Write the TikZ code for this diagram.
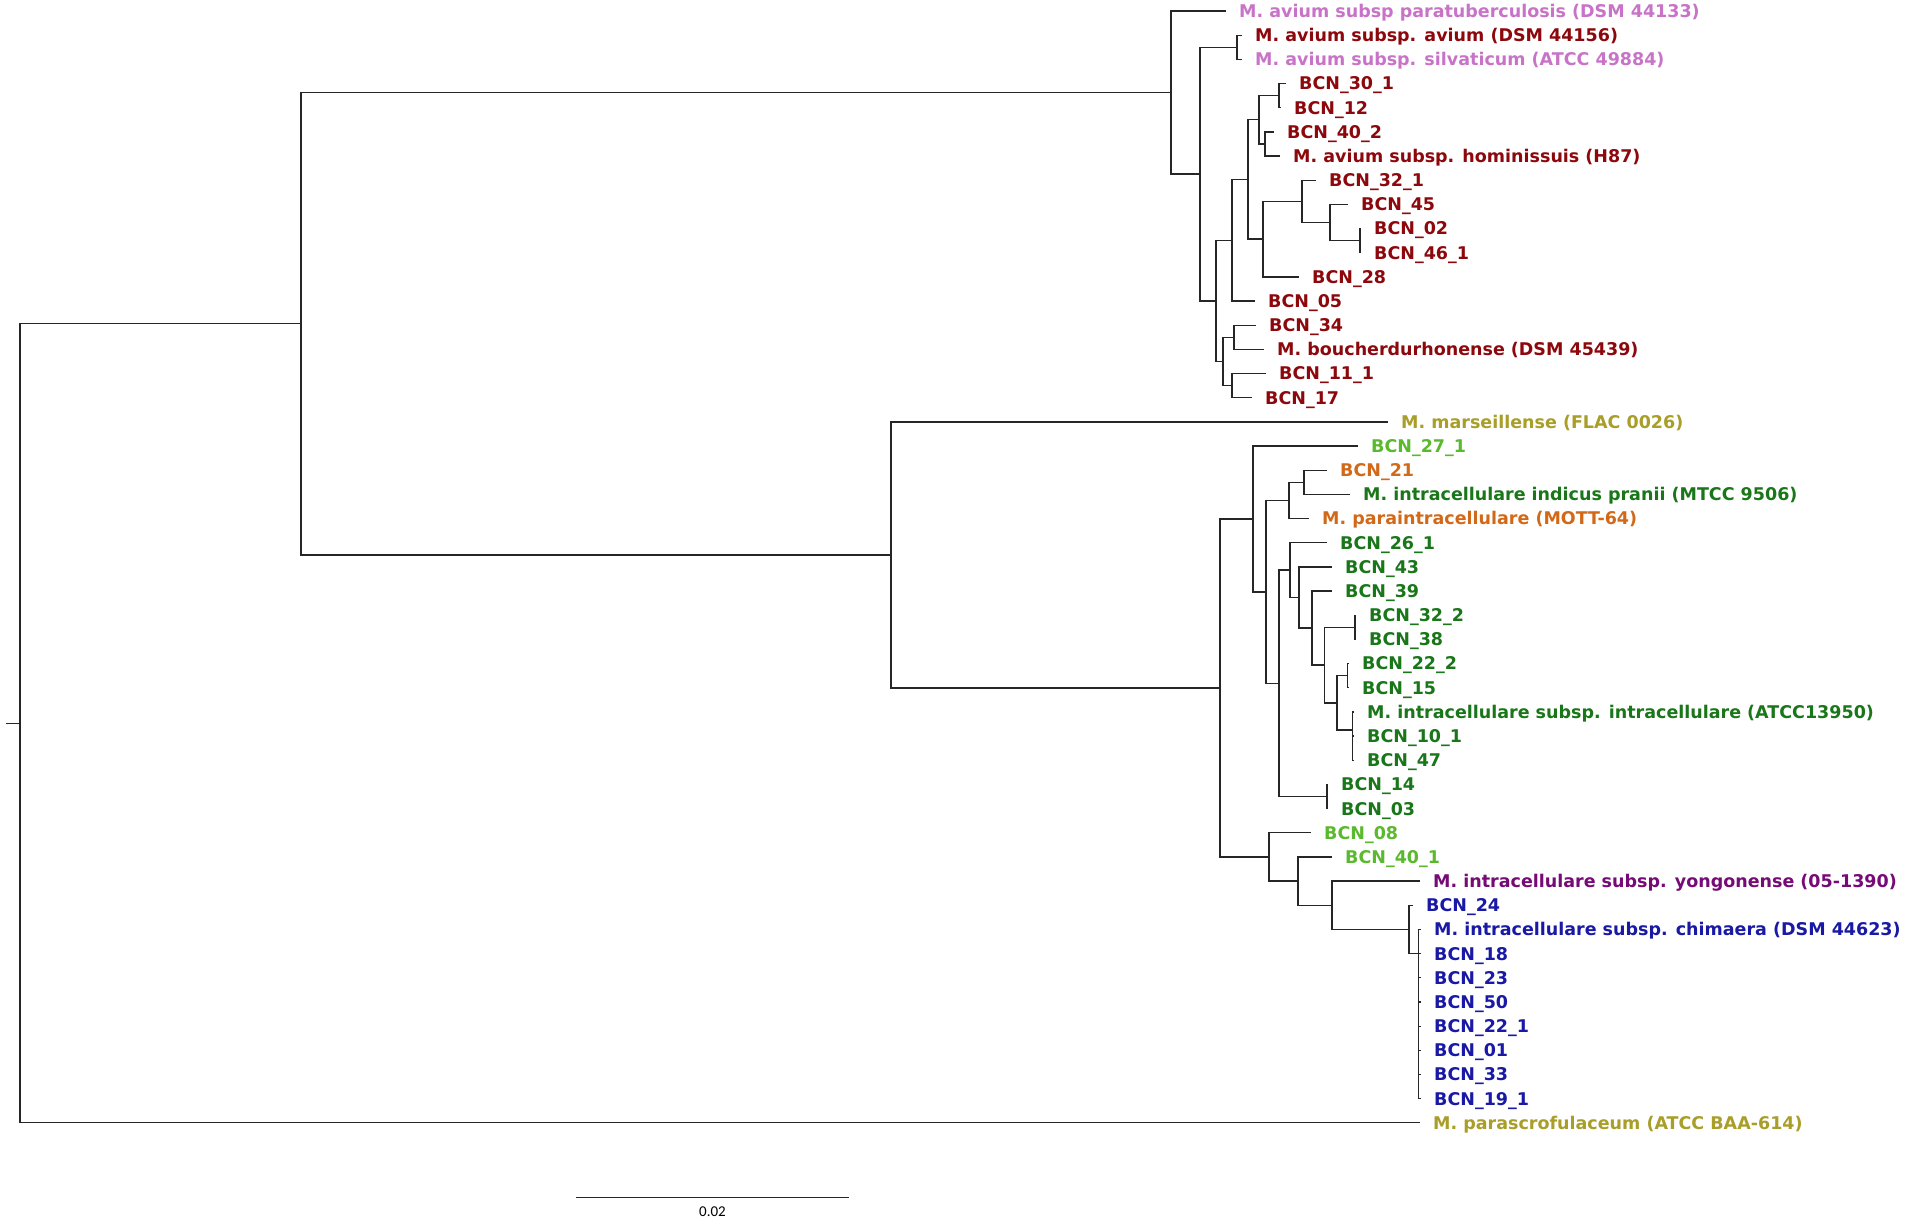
\documentclass[tikz,border=0pt]{standalone}
\usepackage{fontspec}
\setmainfont{DejaVu Sans}
\newfontfamily\barfont{Carlito}
\usetikzlibrary{calc,positioning}
\definecolor{avpink}{RGB}{200,115,200}
\definecolor{avred}{RGB}{140,8,12}
\definecolor{olive}{RGB}{168,158,40}
\definecolor{lgreen}{RGB}{90,185,45}
\definecolor{orng}{RGB}{210,105,25}
\definecolor{dgreen}{RGB}{25,118,25}
\definecolor{purp}{RGB}{118,10,118}
\definecolor{dblue}{RGB}{25,25,165}
% leaf: row, tip x, colour, text
\newcommand{\tip}[4]{ \coordinate (t#1) at (#2,{11+(#1-1)*24.17}); \node[lbl, text=#3, right=13pt of t#1] (l#1) {#4};}
% inner node: name, x, upper child, lower child
\newcommand{\inode}[4]{ \coordinate (#1m) at ($(#3)!.5!(#4)$); \coordinate (#1) at (#2,0 |- #1m); \draw[br] (#1) |- (#3); \draw[br] (#1) |- (#4);}
\begin{document}
\begin{tikzpicture}[x=1pt,y=-1pt,
    br/.style={draw=black!85, line width=1.3pt},
    lbl/.style={inner sep=0pt, anchor=west, font=\bfseries\fontsize{17.5}{20}\selectfont, text height=12.8pt, text depth=0pt}]

        \fill[white] (0,0) rectangle (1908,1223);
        \useasboundingbox (0,0) rectangle (1908,1223);

        % avium group
        \tip{1}{1226}{avpink}{M. avium subsp paratuberculosis (DSM 44133)}
        \tip{2}{1242}{avred}{M. avium subsp. avium (DSM 44156)}
        \tip{3}{1242}{avpink}{M. avium subsp. silvaticum (ATCC 49884)}
        \tip{4}{1286}{avred}{BCN\_30\_1}
        \tip{5}{1281}{avred}{BCN\_12}
        \tip{6}{1274}{avred}{BCN\_40\_2}
        \tip{7}{1280}{avred}{M. avium subsp. hominissuis (H87)}
        \tip{8}{1316}{avred}{BCN\_32\_1}
        \tip{9}{1348}{avred}{BCN\_45}
        \tip{10}{1361}{avred}{BCN\_02}
        \tip{11}{1361}{avred}{BCN\_46\_1}
        \tip{12}{1299}{avred}{BCN\_28}
        \tip{13}{1255}{avred}{BCN\_05}
        \tip{14}{1256}{avred}{BCN\_34}
        \tip{15}{1264}{avred}{M. boucherdurhonense (DSM 45439)}
        \tip{16}{1266}{avred}{BCN\_11\_1}
        \tip{17}{1252}{avred}{BCN\_17}

        % intracellulare group
        \tip{18}{1388}{olive}{M. marseillense (FLAC 0026)}
        \tip{19}{1358}{lgreen}{BCN\_27\_1}
        \tip{20}{1327}{orng}{BCN\_21}
        \tip{21}{1350}{dgreen}{M. intracellulare indicus pranii (MTCC 9506)}
        \tip{22}{1309}{orng}{M. paraintracellulare (MOTT-64)}
        \tip{23}{1327}{dgreen}{BCN\_26\_1}
        \tip{24}{1332}{dgreen}{BCN\_43}
        \tip{25}{1332}{dgreen}{BCN\_39}
        \tip{26}{1356}{dgreen}{BCN\_32\_2}
        \tip{27}{1356}{dgreen}{BCN\_38}
        \tip{28}{1349}{dgreen}{BCN\_22\_2}
        \tip{29}{1349}{dgreen}{BCN\_15}
        \tip{30}{1354}{dgreen}{M. intracellulare subsp. intracellulare (ATCC13950)}
        \tip{31}{1354}{dgreen}{BCN\_10\_1}
        \tip{32}{1354}{dgreen}{BCN\_47}
        \tip{33}{1328}{dgreen}{BCN\_14}
        \tip{34}{1328}{dgreen}{BCN\_03}
        \tip{35}{1311}{lgreen}{BCN\_08}
        \tip{36}{1332}{lgreen}{BCN\_40\_1}
        \tip{37}{1420}{purp}{M. intracellulare subsp. yongonense (05-1390)}
        \tip{38}{1413}{dblue}{BCN\_24}
        \tip{39}{1421}{dblue}{M. intracellulare subsp. chimaera (DSM 44623)}
        \tip{40}{1421}{dblue}{BCN\_18}
        \tip{41}{1421}{dblue}{BCN\_23}
        \tip{42}{1421}{dblue}{BCN\_50}
        \tip{43}{1421}{dblue}{BCN\_22\_1}
        \tip{44}{1421}{dblue}{BCN\_01}
        \tip{45}{1421}{dblue}{BCN\_33}
        \tip{46}{1421}{dblue}{BCN\_19\_1}

        % outgroup
        \tip{47}{1420}{olive}{M. parascrofulaceum (ATCC BAA-614)}

        % avium branches
        \inode{a680}{1360}{t10}{t11}
        \inode{a602}{1330}{t9}{a680}
        \inode{a528}{1302}{t8}{a602}
        \inode{a425}{1263}{a528}{t12}
        \inode{a468}{1279}{t4}{t5}
        \inode{a430}{1265}{t6}{t7}
        \inode{a415}{1259}{a468}{a430}
        \inode{a388}{1248}{a415}{a425}
        \inode{a345}{1232}{a388}{t13}
        \inode{a350}{1234}{t14}{t15}
        \inode{a346}{1232}{t16}{t17}
        \inode{a322}{1223}{a350}{a346}
        \inode{a302}{1216}{a345}{a322}
        \inode{a237}{1237}{t2}{t3}
        \inode{a200}{1200}{a237}{a302}
        \inode{a171}{1171}{t1}{a200}

        % intracellulare branches
        \inode{i304}{1304}{t20}{t21}
        \inode{i289}{1289}{i304}{t22}
        \inode{i355}{1355}{t26}{t27}
        \inode{i348}{1347.5}{t28}{t29}
        \inode{i353b}{1352.5}{t31}{t32}
        \inode{i353}{1352.5}{t30}{i353b}
        \inode{i337}{1337}{i348}{i353}
        \inode{i325}{1324.5}{i355}{i337}
        \inode{i312}{1312}{t25}{i325}
        \inode{i299}{1299}{t24}{i312}
        \inode{i290}{1290}{t23}{i299}
        \inode{i327}{1327}{t33}{t34}
        \inode{i279}{1279}{i290}{i327}
        \inode{i266}{1266}{i289}{i279}
        \inode{i253}{1253}{t19}{i266}

        % chimaera group
        \inode{c7}{1418.5}{t45}{t46}
        \inode{c6}{1418.5}{t44}{c7}
        \inode{c5}{1418.5}{t43}{c6}
        \inode{c4}{1418.5}{t42}{c5}
        \inode{c3}{1418.5}{t41}{c4}
        \inode{c2}{1418.5}{t40}{c3}
        \inode{c1}{1418.5}{t39}{c2}
        \inode{i409}{1409}{t38}{c1}
        \inode{i332}{1332}{t37}{i409}
        \inode{i298}{1298}{t36}{i332}
        \inode{i269}{1269}{t35}{i298}
        \inode{i220}{1220}{i253}{i269}
        \inode{i891}{891}{t18}{i220}

        % deep branches
        \inode{nT}{301}{a171}{i891}
        \inode{root}{20}{nT}{t47}
        \coordinate (rs) at (6,0 |- root);
        \draw[br] (rs) -- (root);

        % scale bar
        \coordinate (sb1) at (576,1197);
        \coordinate (sb2) at (849,1197);
        \draw[br, line width=1pt] (sb1) -- (sb2);
        \path ($(sb1)!.5!(sb2)$) node[below=10pt, inner sep=0pt, font=\barfont\fontsize{15}{16}\selectfont] (sbl) {0.02};

\end{tikzpicture}
\end{document}
